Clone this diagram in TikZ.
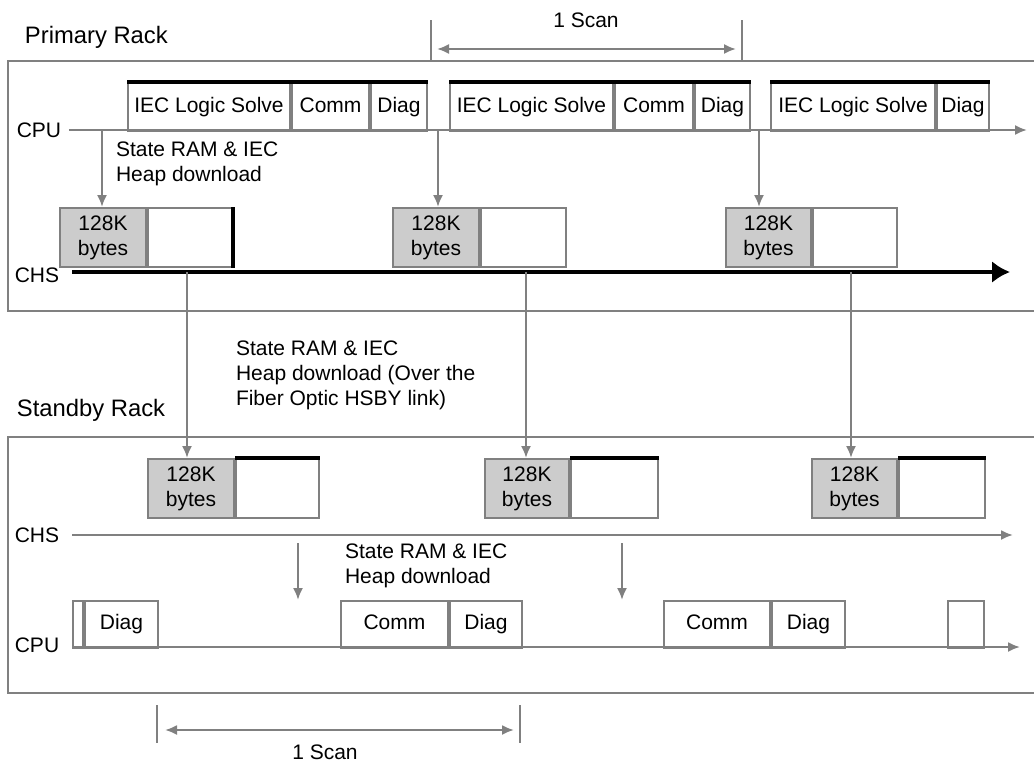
\documentclass[tikz,border=0pt]{standalone}
\usepackage{fontspec}
\setmainfont{Liberation Sans}
\usetikzlibrary{arrows.meta}
\definecolor{linegray}{gray}{0.5}
\definecolor{boxgray}{gray}{0.8}

\begin{document}
\begin{tikzpicture}[x=0.5pt, y=-0.5pt, line width=1pt,
    every node/.style={font=\fontsize{10.5}{12.5}\selectfont},
    seg/.style={draw=linegray, inner sep=0pt, minimum height=24pt, anchor=north west,
      text height=7.6pt, text depth=2.2pt},
    mem/.style={draw=linegray, inner sep=0pt, minimum height=29.5pt, anchor=north west, align=center},
    txt/.style={inner sep=0pt, anchor=west, align=left},
    rack/.style={inner sep=0pt, anchor=west, font=\fontsize{11.9}{14}\selectfont},
    tick/.style={linegray},
    axis/.style={linegray, -{Latex[length=6pt,width=5pt]}},
    dl/.style={linegray, -{Latex[length=6pt,width=5pt]}},
    span/.style={linegray, {Latex[length=6pt,width=5pt]}-{Latex[length=6pt,width=5pt]}}]
\useasboundingbox (0,0) rectangle (1034,762);

% racks
\draw[linegray] (1034,61) -- (8,61) -- (8,311) -- (1034,311);
\draw[linegray] (1034,437) -- (8,437) -- (8,693) -- (1034,693);
\node[rack] (prim) at (24,37) {Primary Rack};
\node[rack] (stby) at (16,410) {Standby Rack};

% scan on top
\node (scanP) at (586,20) {1 Scan};
\draw[tick] (431,20) -- (431,61);
\draw[tick] (742,20) -- (742,61);
\draw[span] (437,49) -- (736,49);

% primary cpu
\node (cpuP) at (39,130) {CPU};
\draw[axis] (cpuP.east) -- (1027,130);
\node[seg, minimum width=81pt] (p1a) at (127,82) {IEC Logic Solve};
\node[seg, minimum width=38.5pt] (p1b) at (p1a.north east) {Comm};
\node[seg, minimum width=28pt] (p1c) at (p1b.north east) {Diag};
\draw[line width=1.6pt] (p1a.north west) -- (p1c.north east);
\node[seg, minimum width=81.5pt] (p2a) at (449,82) {IEC Logic Solve};
\node[seg, minimum width=39pt] (p2b) at (p2a.north east) {Comm};
\node[seg, minimum width=27.5pt] (p2c) at (p2b.north east) {Diag};
\draw[line width=1.6pt] (p2a.north west) -- (p2c.north east);
\node[seg, minimum width=82pt] (p3a) at (770,82) {IEC Logic Solve};
\node[seg, minimum width=26pt] (p3b) at (p3a.north east) {Diag};
\draw[line width=1.6pt] (p3a.north west) -- (p3b.north east);

% primary memory
\node[mem, fill=boxgray, minimum width=43pt] (pg1) at (59,207) {128K\\bytes};
\node[mem, minimum width=42pt] (pw1) at (pg1.north east) {};
\draw[line width=1.6pt] (pw1.north east) -- (pw1.south east);
\node[mem, fill=boxgray, minimum width=43pt] (pg2) at (392,207) {128K\\bytes};
\node[mem, minimum width=42.5pt] (pw2) at (pg2.north east) {};
\node[mem, fill=boxgray, minimum width=42.5pt] (pg3) at (725,207) {128K\\bytes};
\node[mem, minimum width=42pt] (pw3) at (pg3.north east) {};

\coordinate (d1) at (102,130);
\coordinate (d2) at (438,130);
\coordinate (d3) at (759,130);
\draw[dl] (d1) -- (d1 |- pg1.north);
\draw[dl] (d2) -- (d2 |- pg2.north);
\draw[dl] (d3) -- (d3 |- pg3.north);
\node[txt] (dlP) at (115,164) {State RAM \& IEC\\Heap download};

% primary chs
\node (chsP) at (37,275) {CHS};
\coordinate (chsA) at (72,272);
\coordinate (chsB) at (1010,272);
\draw[line width=2pt, -{Latex[length=9pt,width=11pt]}] (chsA) -- (chsB);

% standby memory
\node[mem, fill=boxgray, minimum width=43pt] (sg1) at (147,458) {128K\\bytes};
\node[mem, minimum width=41.5pt] (sw1) at (sg1.north east) {};
\draw[line width=1.6pt] (sw1.north west) -- (sw1.north east);
\node[mem, fill=boxgray, minimum width=42pt] (sg2) at (484,458) {128K\\bytes};
\node[mem, minimum width=43.5pt] (sw2) at (sg2.north east) {};
\draw[line width=1.6pt] (sw2.north west) -- (sw2.north east);
\node[mem, fill=boxgray, minimum width=42.5pt] (sg3) at (811,458) {128K\\bytes};
\node[mem, minimum width=43pt] (sw3) at (sg3.north east) {};
\draw[line width=1.6pt] (sw3.north west) -- (sw3.north east);

\coordinate (x1) at (187,272);
\coordinate (x2) at (526,272);
\coordinate (x3) at (851,272);
\draw[dl] (x1) -- (x1 |- sg1.north);
\draw[dl] (x2) -- (x2 |- sg2.north);
\draw[dl] (x3) -- (x3 |- sg3.north);
\node[txt] (dlX) at (235,375) {State RAM \& IEC\\Heap download (Over the\\Fiber Optic HSBY link)};

% standby chs
\node (chsS) at (37,535) {CHS};
\draw[axis] (72,535) -- (1013,535);
\coordinate (e1) at (298,543);
\coordinate (e2) at (622,543);
\draw[dl] (e1) -- ++(0,57);
\draw[dl] (e2) -- ++(0,57);
\node[txt] (dlS) at (344,566) {State RAM \& IEC\\Heap download};

% standby cpu
\node (cpuS) at (37,645) {CPU};
\draw[axis] (72,647) -- (1020,647);
\node[seg, minimum height=23.5pt, minimum width=5pt] (sa0) at (72,600) {};
\node[seg, minimum height=23.5pt, minimum width=36.5pt] (sa1) at (sa0.north east) {Diag};
\node[seg, minimum height=23.5pt, minimum width=53.5pt] (sb1) at (340,600) {Comm};
\node[seg, minimum height=23.5pt, minimum width=36pt] (sb2) at (sb1.north east) {Diag};
\node[seg, minimum height=23.5pt, minimum width=53pt] (sc1) at (663,600) {Comm};
\node[seg, minimum height=23.5pt, minimum width=36.5pt] (sc2) at (sc1.north east) {Diag};
\node[seg, minimum height=23.5pt, minimum width=18pt] (sd) at (947,600) {};

% scan at bottom
\draw[tick] (157,705) -- (157,743);
\draw[tick] (520,705) -- (520,743);
\draw[span] (165,730) -- (514,730);
\node (scanS) at (325,752) {1 Scan};
\end{tikzpicture}
\end{document}
